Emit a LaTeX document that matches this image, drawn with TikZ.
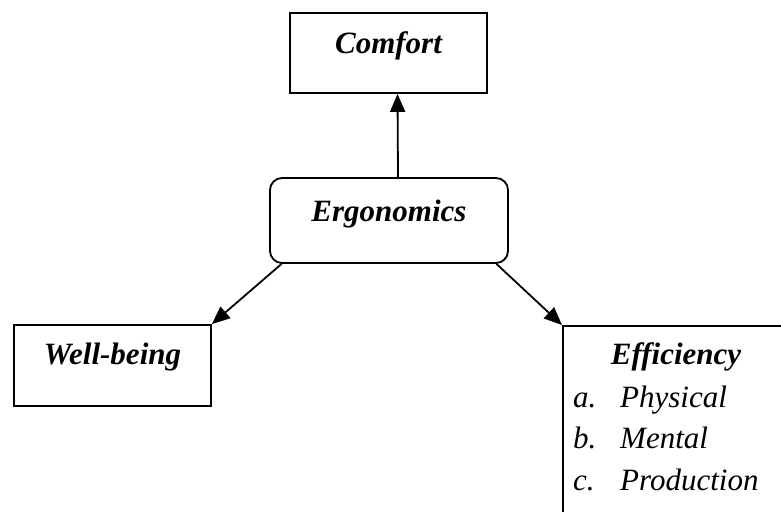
\documentclass[tikz,border=0pt]{standalone}
\usepackage{fontspec}
\setmainfont{Liberation Serif}
\usetikzlibrary{arrows.meta,positioning}
\tikzset{>={Stealth[length=18pt,width=15pt,inset=0pt]}}

\begin{document}
\begin{tikzpicture}[x=1pt,y=-1pt,
    box/.style={draw, line width=1.8pt, inner sep=0pt,
      font=\fontsize{31}{42}\selectfont\bfseries\itshape},
    item/.style={anchor=base west, inner sep=0pt,
      font=\fontsize{31}{42}\selectfont\itshape},
    link/.style={->, line width=1.8pt}]
  \useasboundingbox (0,0) rectangle (781,511);
  \clip (0,0) rectangle (781,511);

  % boxes
  \node[box, minimum width=197pt, text height=40pt, text depth=40pt] (comfort) at (388.5,53) {Comfort};
  \node[box, rounded corners=12pt, minimum width=238pt, text height=43pt, text depth=42pt] (ergo) at (389,220.5) {Ergonomics};
  \node[box, minimum width=197pt, text height=39pt, text depth=42pt] (wb) at (112.5,365.5) {Well-being};
  \node[box, anchor=north west, minimum width=260pt, minimum height=220pt] (eff) at (562,325) {};

  % efficiency list
  \node[item, anchor=base, font=\fontsize{31}{42}\selectfont\bfseries\itshape] (effhead) at (676,364) {Efficiency};
  \foreach \k/\w/\y in {a/Physical/407, b/Mental/448, c/Production/490} {
    \node[item] (mark-\k) at (573,\y) {\k.};
    \node[item] (word-\k) at (620,\y) {\w};
  }

  % arrows
  \draw[link] ([xshift=9pt]ergo.north) -- ([xshift=9pt]comfort.south);
  \draw[link] (ergo.-158) -- (wb.north east);
  \draw[link] (ergo.-22) -- (eff.north west);
\end{tikzpicture}
\end{document}
